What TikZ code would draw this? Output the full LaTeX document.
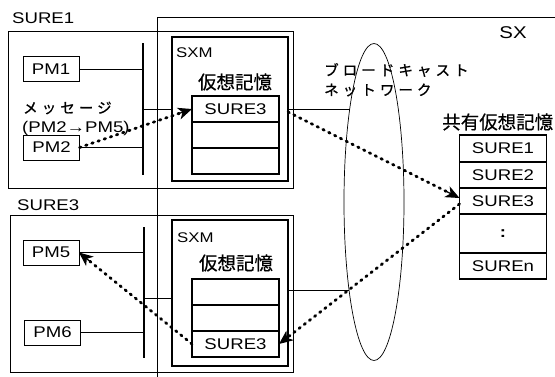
\documentclass[tikz,border=0pt]{standalone}
\usepackage{fontspec}
\setmainfont{Liberation Sans}[FakeStretch=1.2]
\newfontfamily\jp{Noto Sans CJK JP}[FakeBold=0.6]
\newfontfamily\jpwide{Noto Sans CJK JP}[LetterSpace=28, FakeBold=1]
\usetikzlibrary{shapes.geometric, arrows.meta, positioning, calc}

\begin{document}
\begin{tikzpicture}[x=1pt, y=-1pt,
  lat/.style={inner sep=0pt, font=\fontsize{15.5}{17}\selectfont},
  kana/.style={inner sep=0pt, font=\jpwide\fontsize{14.5}{17}\selectfont},
  kanji/.style={inner sep=0pt, font=\jp\fontsize{18.5}{20}\selectfont},
  surebox/.style={draw, line width=0.9pt, inner sep=0pt, outer sep=0pt},
  sxmbox/.style={draw, line width=1.4pt, minimum width=116pt, inner sep=0pt, outer sep=0pt},
  pmbox/.style={draw, line width=1pt, minimum width=56pt, minimum height=25pt, inner sep=0pt, outer sep=0pt, font=\fontsize{15.5}{17}\selectfont},
  cell/.style={draw, line width=1.5pt, minimum width=87pt, minimum height=26pt, inner sep=0pt, outer sep=0pt, font=\fontsize{15.5}{17}\selectfont},
  bus/.style={line width=2.2pt},
  wire/.style={line width=0.9pt},
  msg/.style={line width=2.8pt, line cap=round, dash pattern=on 1.5pt off 5pt, shorten >=10pt},
  msgtip/.style={line width=1.2pt, -{Stealth[length=14pt, width=12pt, inset=4pt]}},
]
  \useasboundingbox (0,0) rectangle (555,376);

  % SX frame
  \draw[wire] (157,380) |- (560,17);
  \node[lat, font=\fontsize{17}{19}\selectfont] (sx) at (513,33) {SX};

  % SURE1
  \node[surebox, minimum width=285pt, minimum height=157pt] (sure1) at (150.5,109.5) {};
  \node[lat, anchor=west] (sure1lbl) at (12,18) {SURE1};
  \node[pmbox] (pm1) at (51,69) {PM1};
  \node[pmbox] (pm2) at (51.5,147.5) {PM2};
  \node[kana, anchor=west] (msgtxt) at (23,108) {メッセージ};
  \node[lat, anchor=west] (msgpm) at (22,128) {(PM2→PM5)};
  \coordinate (bus1t) at (143,43);
  \coordinate (bus1b) at (143,175);
  \draw[bus] (bus1t) -- (bus1b);
  \node[sxmbox, minimum height=144pt] (sxm1) at (230,109) {};
  \node[lat, anchor=west, font=\fontsize{14}{16}\selectfont] (sxm1lbl) at (176,53) {SXM};
  \node[kanji] (vm1) at (235,82) {仮想記憶};
  \node[cell] (mem1a) at (235.5,109) {SURE3};
  \node[cell, below=0pt of mem1a] (mem1b) {};
  \node[cell, below=0pt of mem1b] (mem1c) {};

  % SURE3
  \node[surebox, minimum width=283pt, minimum height=157pt] (sure3) at (151.5,293.5) {};
  \node[lat, anchor=west] (sure3lbl) at (17,205) {SURE3};
  \node[pmbox] (pm5) at (51,252.5) {PM5};
  \node[pmbox] (pm6) at (52.5,332.5) {PM6};
  \coordinate (bus3t) at (144,227);
  \coordinate (bus3b) at (144,358);
  \coordinate (tap3) at (144,298);
  \draw[bus] (bus3t) -- (bus3b);
  \node[sxmbox, minimum height=146pt] (sxm3) at (230,293) {};
  \node[lat, anchor=west, font=\fontsize{14}{16}\selectfont] (sxm3lbl) at (177,238) {SXM};
  \node[kanji] (vm3) at (236,263) {仮想記憶};
  \node[cell] (mem3a) at (235.5,292) {};
  \node[cell, below=0pt of mem3a] (mem3b) {};
  \node[cell, below=0pt of mem3b] (mem3c) {SURE3};

  % broadcast network
  \node[draw, ellipse, line width=0.7pt, minimum width=60pt, minimum height=317pt, inner sep=0pt] (bnet) at (374,202) {};
  \node[kana, anchor=west] (bnet1) at (324,70) {ブロードキャスト};
  \node[kana, anchor=west] (bnet2) at (324,90) {ネットワーク};

  % shared virtual memory
  \node[kanji, anchor=west] (shlbl) at (442,122) {共有仮想記憶};
  \node[cell, minimum height=27pt] (sh1) at (503,148.5) {SURE1};
  \node[cell, below=0pt of sh1] (sh2) {SURE2};
  \node[cell, below=0pt of sh2] (sh3) {SURE3};
  \node[cell, below=0pt of sh3, minimum height=39pt, font=\fontsize{15.5}{17}\selectfont\bfseries] (sh4) {:};
  \node[cell, below=0pt of sh4] (sh5) {SUREn};

  % wires
  \draw[wire] (pm1.east) -- (pm1.east -| bus1t);
  \draw[wire] (pm2.east) -- (pm2.east -| bus1t);
  \draw[wire] (bus1t |- mem1a) -- (sxm1.west |- mem1a);
  \draw[wire] (pm5.east) -- (pm5.east -| bus3t);
  \draw[wire] (pm6.east) -- (pm6.east -| bus3t);
  \draw[wire] (tap3) -- (tap3 -| sxm3.west);
  \draw[wire] (sxm1.east |- mem1a) -- (mem1a -| bnet.104);
  \draw[wire] ([yshift=3pt]sxm3.east) -- ([yshift=3pt]sxm3.east -| bnet.255);

  % messages
  \coordinate (m1a) at (pm2.east);
  \coordinate (m1b) at (mem1a.west);
  \coordinate (m2a) at ([yshift=-3pt]sxm1.east);
  \coordinate (m2b) at ([yshift=3pt]sh3.west);
  \coordinate (m3a) at ([yshift=-3pt]sh3.west);
  \coordinate (m3b) at (mem3c.east);
  \coordinate (m4a) at (mem3c.west);
  \coordinate (m4b) at (pm5.east);
  \foreach \m in {m1, m2, m3, m4} {
    \draw[msg] (\m a) -- (\m b);
    \draw[msgtip] ($(\m b)!14pt!(\m a)$) -- (\m b);
  }
\end{tikzpicture}
\end{document}
